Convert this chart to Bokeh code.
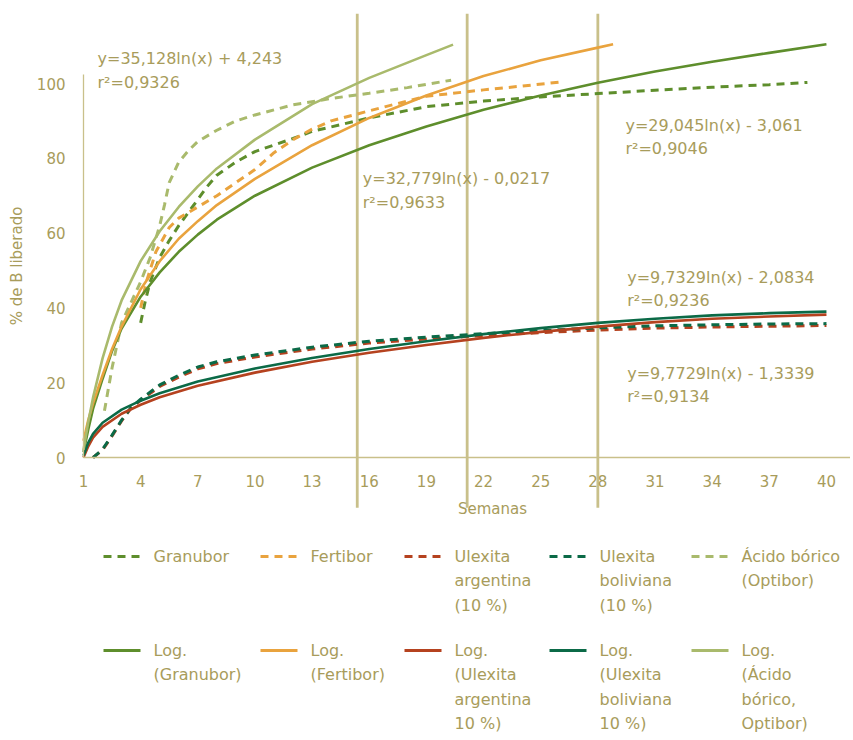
from bokeh.plotting import figure
from bokeh.models import Range1d, FixedTicker, Label
from bokeh.layouts import column
from bokeh.embed import file_html
from bokeh.resources import INLINE
from bokeh.core.properties import value

FONT = "DejaVu Sans"
TXT = "#A89C5B"
GUIDE = "#C9C08A"

# ---------------- data ----------------
x_ticks = [1, 4, 7, 10, 13, 16, 19, 22, 25, 28, 31, 34, 37, 40]
y_ticks = [0, 20, 40, 60, 80, 100]

# measured series (dashed)
gran_w = [4, 4.25, 4.5, 5, 5.5, 6, 6.5, 7, 7.5, 8, 9, 10, 12, 13, 16, 19, 22, 25, 28, 31, 34, 37, 39]
gran_v = [36, 42, 47, 53.5, 58, 62, 65.5, 69, 72.5, 75.5, 79, 81.8, 85.3, 87.2, 90.8, 93.8, 95.3, 96.4, 97.3, 98.2, 99, 99.7, 100.3]

fert_w = [4, 4.3, 4.8, 5.5, 6, 7, 8, 9, 10, 11, 12, 13, 14, 16, 19, 22, 24, 26.2]
fert_v = [40, 47, 55, 61.5, 64, 67, 70, 73.5, 77, 81.5, 85, 87.8, 90, 92.7, 96.6, 98.3, 99.3, 100.5]

ulex_w = [1.5, 2, 2.5, 3, 3.5, 4, 5, 6, 7, 8, 10, 13, 16, 19, 22, 25, 28, 31, 34, 37, 40]
ulex_arg_v = [0, 2, 5.8, 9.8, 13.2, 15.3, 19, 21.5, 23.7, 25.1, 26.9, 29, 30.6, 31.7, 32.6, 33.4, 34.1, 34.6, 34.9, 35.1, 35.3]
ulex_bol_v = [0, 2.2, 6, 10, 13.4, 15.6, 19.4, 22, 24.2, 25.6, 27.4, 29.5, 31.1, 32.2, 33.1, 33.9, 34.7, 35.2, 35.5, 35.7, 35.8]

acid_w = [2.1, 2.5, 3, 3.5, 4, 4.5, 5, 5.25, 5.5, 6, 6.5, 7, 8, 9, 10, 12, 14, 16, 18, 20.3]
acid_v = [12.5, 24, 36, 41.5, 47, 53.5, 62, 67.5, 73.5, 79, 82, 84.5, 87.5, 90, 91.6, 94.3, 96, 97.4, 98.9, 100.9]

# logarithmic trend lines (solid)
log_gran_w = [1, 1.25, 1.5, 2, 2.5, 3, 4, 5, 6, 7, 8, 10, 13, 16, 19, 22, 25, 28, 31, 34, 37, 40]
log_gran_v = [1.5, 7.5, 13, 21, 28.5, 34.5, 43, 49.5, 55, 59.6, 63.6, 70, 77.5, 83.5, 88.5, 93, 96.8, 100.2, 103.2, 105.8, 108.2, 110.5]

log_fert_w = [1, 1.25, 1.5, 2, 2.5, 3, 4, 5, 6, 7, 8, 10, 13, 16, 19, 22, 25, 28, 28.8]
log_fert_v = [4.5, 10, 14.5, 22, 29, 35, 45, 52.5, 58.5, 63.2, 67.5, 74.5, 83.5, 90.8, 96.8, 102, 106.2, 109.6, 110.5]

log_acid_w = [1, 1.25, 1.5, 2, 2.5, 3, 4, 5, 6, 7, 8, 10, 13, 16, 19, 20.4]
log_acid_v = [2, 9.5, 16, 26.5, 35, 42, 52.5, 60.5, 67, 72.5, 77.3, 85, 94.5, 101.5, 107.6, 110.4]

log_ulex_w = [1, 1.25, 1.5, 2, 3, 4, 5, 7, 10, 13, 16, 19, 22, 25, 28, 31, 34, 37, 40]
log_ulex_arg_v = [0, 3, 5.3, 8.2, 11.7, 14.1, 16.1, 19.2, 22.7, 25.6, 28, 30.1, 32, 33.6, 35, 36.2, 37.1, 37.7, 38.2]
log_ulex_bol_v = [0.5, 4, 6.3, 9.3, 12.8, 15.2, 17.2, 20.3, 23.8, 26.6, 29, 31.1, 33, 34.6, 36, 37.1, 38, 38.6, 39]

guide_weeks = [15.37, 21.14, 28.0]

eq_text = ["y=35,128ln(x) + 4,243", "y=32,779ln(x) - 0,0217", "y=29,045ln(x) - 3,061",
           "y=9,7329ln(x) - 2,0834", "y=9,7729ln(x) - 1,3339"]
r2_text = ["r²=0,9326", "r²=0,9633", "r²=0,9046", "r²=0,9236", "r²=0,9134"]

legend_labels = [
    "Granubor", "Fertibor", "Ulexita\nargentina\n(10 %)", "Ulexita\nboliviana\n(10 %)", "Ácido bórico\n(Optibor)",
    "Log.\n(Granubor)", "Log.\n(Fertibor)", "Log.\n(Ulexita\nargentina\n10 %)", "Log.\n(Ulexita\nboliviana\n10 %)",
    "Log.\n(Ácido\nbórico,\nOptibor)",
]

C_GRAN = "#5E8E2C"
C_FERT = "#E9A33E"
C_ARG = "#B5421F"
C_BOL = "#0B6A47"
C_ACID = "#A9BA6C"
series_colors = [C_GRAN, C_FERT, C_ARG, C_BOL, C_ACID]

# ---------------- layout constants ----------------
eq_pos = [(1.735, 106.6, 100.3), (15.66, 74.5, 68.3), (29.45, 88.8, 82.5),
          (29.54, 48.2, 42.0), (29.54, 22.5, 16.3)]
DASH = "8 6"
W = 850
PX_PER_WEEK = 19.05
AXIS_X = 83                     # page x of the y axis (week 1)
X0 = 1 - AXIS_X / PX_PER_WEEK
X1 = 1 + (W - AXIS_X) / PX_PER_WEEK

p = figure(width=W, height=520, x_range=Range1d(X0, X1), y_range=Range1d(-16.84, 118.72),
           output_backend="svg", toolbar_location=None,
           min_border_left=0, min_border_right=0, min_border_top=13, min_border_bottom=0)
p.xgrid.visible = False
p.ygrid.visible = False
p.outline_line_color = None
p.background_fill_color = "white"

for ax in (p.xaxis[0], p.yaxis[0]):
    ax.major_tick_line_color = None
    ax.minor_tick_line_color = None
    ax.axis_line_color = GUIDE
    ax.axis_line_width = 1.3
    ax.major_label_text_font = FONT
    ax.major_label_text_font_size = "15px"
    ax.major_label_text_color = TXT

p.xaxis.fixed_location = 0
p.xaxis.bounds = (1, 60)
p.xaxis.ticker = FixedTicker(ticks=x_ticks)
p.xaxis.major_label_standoff = 11

p.yaxis.fixed_location = 1
p.yaxis.ticker = FixedTicker(ticks=y_ticks)
p.yaxis.bounds = (0, 102.4)
p.yaxis.major_label_standoff = 12
p.yaxis.axis_label = "% de B liberado"
p.yaxis.axis_label_text_font = FONT
p.yaxis.axis_label_text_font_size = "15px"
p.yaxis.axis_label_text_font_style = "normal"
p.yaxis.axis_label_text_color = TXT
p.yaxis.axis_label_standoff = 8

# decorative vertical guide lines
p.segment(x0=guide_weeks, y0=[-13.4] * len(guide_weeks), x1=guide_weeks, y1=[118.72] * len(guide_weeks),
          line_color=GUIDE, line_width=2.8)

# measured series
for w, v, c in [(gran_w, gran_v, C_GRAN), (fert_w, fert_v, C_FERT), (ulex_w, ulex_arg_v, C_ARG),
                (ulex_w, ulex_bol_v, C_BOL), (acid_w, acid_v, C_ACID)]:
    p.line(w, v, line_color=c, line_width=3, line_dash=DASH)

# trend lines
for w, v, c in [(log_gran_w, log_gran_v, C_GRAN), (log_fert_w, log_fert_v, C_FERT),
                (log_ulex_w, log_ulex_arg_v, C_ARG), (log_ulex_w, log_ulex_bol_v, C_BOL),
                (log_acid_w, log_acid_v, C_ACID)]:
    p.line(w, v, line_color=c, line_width=2.6)

for (x, y1, y2), t1, t2 in zip(eq_pos, eq_text, r2_text):
    for y, t in ((y1, t1), (y2, t2)):
        p.add_layout(Label(x=x, y=y, text=t, text_font=FONT, text_font_size="16px",
                           text_color=TXT, text_baseline="alphabetic", text_align="left"))

p.add_layout(Label(x=22.47, y=-13.64, text="Semanas", text_font=FONT, text_font_size="15px",
                   text_color=TXT, text_baseline="middle", text_align="center"))

# ---------------- legend figure ----------------
LH = 216
leg = figure(width=W, height=LH, x_range=Range1d(0, W), y_range=Range1d(LH, 0),
             output_backend="svg", toolbar_location=None,
             min_border_left=0, min_border_right=0, min_border_top=0, min_border_bottom=0,
             x_axis_location=None, y_axis_location=None)
leg.xgrid.visible = False
leg.ygrid.visible = False
leg.outline_line_color = None

col_x = [103, 260, 404, 549, 691]
row_y = [36, 130]
line_gap = 24.3
for i, lab in enumerate(legend_labels):
    r, c = divmod(i, 5)
    gx = col_x[c]
    gy = row_y[r]
    leg.segment(x0=[gx], y0=[gy], x1=[gx + 37], y1=[gy], line_color=series_colors[c], line_width=3,
                line_dash=DASH if r == 0 else "solid")
    parts = lab.split("\n")
    leg.text(x=[gx + 50] * len(parts), y=[gy + k * line_gap for k in range(len(parts))], text=parts,
             text_font=value(FONT), text_font_size="16px", text_color=TXT,
             text_baseline="middle", text_align="left")

layout = column(p, leg, spacing=0)
open("out.html", "w").write(file_html(layout, INLINE))
